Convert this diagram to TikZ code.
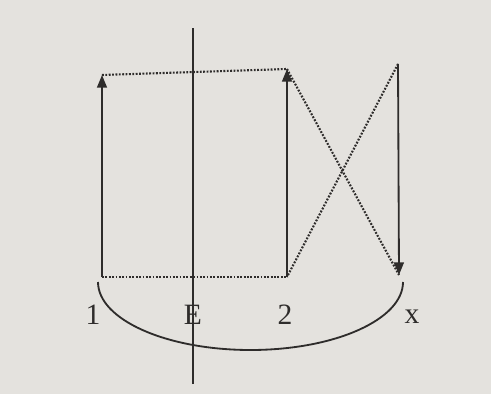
\documentclass[tikz,border=0pt]{standalone}
\usepackage{fontspec}
\setmainfont{Liberation Serif}
\usetikzlibrary{arrows.meta}
\definecolor{paper}{HTML}{E4E2DE}
\definecolor{ink}{HTML}{2E2C2B}
\begin{document}
\begin{tikzpicture}[x=0.025cm,y=0.025cm,line width=1.3pt,draw=ink,
    vec/.style={-{Triangle[length=9pt,width=7pt]}},
    dot/.style={line width=1.5pt,dash pattern=on 1.3pt off 1.1pt},
    lbl/.style={text=ink,font=\fontsize{21}{23}\selectfont,inner sep=0pt}]
      \fill[paper] (0,0) rectangle (491,394);
      \useasboundingbox (0,0) rectangle (491,394);
      % vertical axis
      \coordinate (Et) at (193,366);
      \coordinate (Eb) at (193,10);
      \draw (Eb) -- (Et);
      % the three vectors
      \coordinate (Ab) at (102,117);
      \coordinate (At) at (102,319);
      \coordinate (Bb) at (287,117);
      \coordinate (Bt) at (287,325);
      \coordinate (Xt) at (398,330);
      \coordinate (Xb) at (399,119);
      \draw[vec] (Ab) -- (At);
      \draw[vec] (Bb) -- (Bt);
      \draw[vec] (Xt) -- (Xb);
      % dotted connections
      \draw[dot] (At) -- (Bt);
      \draw[dot] (Ab) -- (Bb);
      \draw[dot] (Bt) -- (Xb);
      \draw[dot] (Xt) -- (Bb);
      % lens
      \coordinate (L) at (98,112);
      \draw (L) arc[start angle=180,end angle=360,x radius=152.5,y radius=68];
      \node[lbl] (one) at (93,79) {1};
      \node[lbl] (E)   at (193,79) {E};
      \node[lbl] (two) at (285,79) {2};
      \node[lbl] (x)   at (412,77) {x};
    \end{tikzpicture}
\end{document}
